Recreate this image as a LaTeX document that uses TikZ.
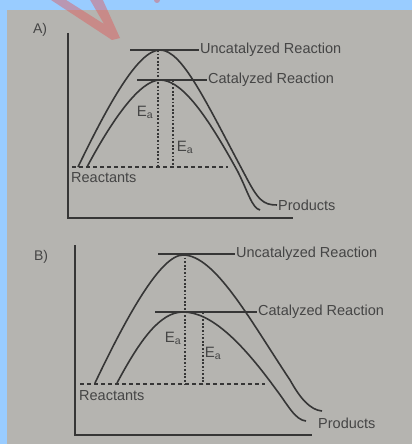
\documentclass[tikz,border=0pt]{standalone}
\usepackage{fontspec}
\setmainfont{Liberation Sans}
\usetikzlibrary{positioning, calc}
\definecolor{bgBlue}{HTML}{99CCFF}
\definecolor{bgPaper}{HTML}{B5B4B0}
\definecolor{inkLine}{HTML}{363636}
\definecolor{inkText}{HTML}{454545}
\definecolor{markRed}{HTML}{E05858}

\begin{document}
\begin{tikzpicture}[x=1pt, y=-1pt,
	curve/.style={draw=inkLine, line width=1.6pt},
	axis/.style={draw=inkLine, line width=1.6pt},
	level/.style={draw=inkLine, line width=2pt},
	base/.style={draw=inkLine, line width=1.4pt, dash pattern=on 4pt off 3pt},
	drop/.style={draw=inkLine, line width=1.7pt, dash pattern=on 1.8pt off 1.8pt},
	lbl/.style={text=inkText, font=\fontsize{14.5}{16}\selectfont, inner sep=1pt},
	ealbl/.style={text=inkText, font=\fontsize{15}{17}\selectfont, inner sep=0pt}]
	\useasboundingbox (0,0) rectangle (412,444);
	\fill[bgBlue] (0,0) rectangle (412,444);
	\fill[bgPaper] (7,10) rectangle (412,444);

	\node[lbl, font=\fontsize{14}{16}\selectfont] (tagA) at (40,30) {A)};
	\draw[axis] (68,33) -- (68,218) -- (293,218);
	\coordinate (uA) at (130,50);
	\coordinate (cA) at (137,80);
	\coordinate (rA) at (72,167);
	\coordinate (rAend) at (228,167);
	\node[lbl, anchor=west] (uAlbl) at (199,50) {Uncatalyzed Reaction};
	\node[lbl, anchor=west] (cAlbl) at (207,80) {Catalyzed Reaction};
	\node[lbl, anchor=north west] (reacA) at (70,171) {Reactants};
	\node[lbl, anchor=west] (prodA) at (277,205) {Products};
	\draw[level] (uA) -- (uAlbl.west);
	\draw[level] (cA) -- (cAlbl.west);
	\draw[base] (rA) -- (rAend);
	\draw[drop] (158,50) -- (158,167);
	\draw[drop] (173,80) -- (173,167);
	\node[ealbl] (eaA1) at (145,112) {E\textsubscript{a}};
	\node[ealbl] (eaA2) at (185,147) {E\textsubscript{a}};
	\draw[curve] (78,167) .. controls (108,105) and (138,50) .. (160,50)
		.. controls (182,50) and (205,100) .. (245,175)
		.. controls (258,200) and (263,205) .. (prodA.west);
	\draw[curve] (87,167) .. controls (112,120) and (140,80) .. (160,80)
		.. controls (180,80) and (203,108) .. (238,172)
		.. controls (248,192) and (252,208) .. (260,210);

	\node[lbl, font=\fontsize{14}{16}\selectfont] (tagB) at (41,257) {B)};
	\draw[axis] (75,245) -- (75,435) -- (312,435);
	\coordinate (uB) at (158,254);
	\coordinate (cB) at (155,312);
	\coordinate (rB) at (80,384);
	\coordinate (rBend) at (265,384);
	\node[lbl, anchor=west] (uBlbl) at (235,254) {Uncatalyzed Reaction};
	\node[lbl, anchor=west] (cBlbl) at (257,312) {Catalyzed Reaction};
	\node[lbl, anchor=north west] (reacB) at (78,389) {Reactants};
	\node[lbl, anchor=west] (prodB) at (317,423) {Products};
	\draw[level] (uB) -- (uBlbl.west);
	\draw[level] (cB) -- (cBlbl.west);
	\draw[base] (rB) -- (rBend);
	\draw[drop] (185,254) -- (185,384);
	\draw[drop] (203,312) -- (203,384);
	\node[ealbl] (eaB1) at (173,338) {E\textsubscript{a}};
	\node[ealbl] (eaB2) at (213,353) {E\textsubscript{a}};
	\draw[curve] (95,383) .. controls (125,320) and (160,255) .. (183,255)
		.. controls (215,255) and (250,320) .. (290,380)
		.. controls (300,398) and (310,410) .. (322,411);
	\draw[curve] (117,383) .. controls (140,340) and (160,312) .. (183,312)
		.. controls (210,312) and (240,340) .. (275,388)
		.. controls (288,405) and (295,420) .. (306,421);

	\fill[markRed, opacity=0.45] (48,-2) -- (112,40) -- (120,38) -- (102,-2)
		-- (89,-2) -- (104,24) -- (63,-2) -- cycle;
	\fill[markRed, opacity=0.45] (157,0) circle (3);
\end{tikzpicture}
\end{document}
